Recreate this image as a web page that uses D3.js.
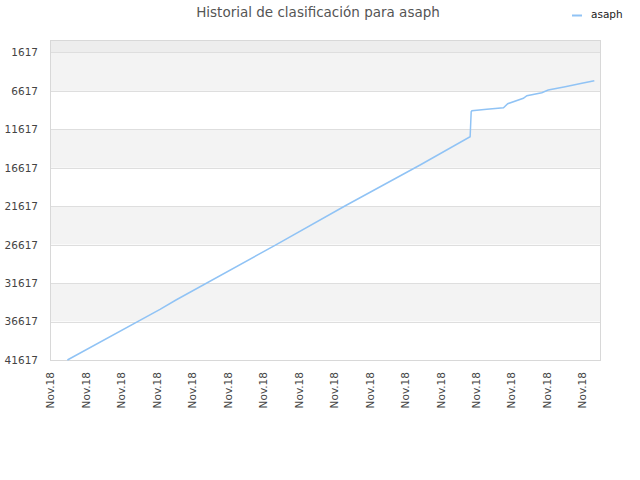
<!DOCTYPE html>
<html>
<head>
<meta charset="utf-8">
<script src="https://cdn.jsdelivr.net/npm/d3@7"></script>
<style>
  body { margin: 0; background: #fff; }
  text { font-family: "DejaVu Sans", sans-serif; }
</style>
</head>
<body>
<div id="chart"></div>
<script>
// data (x in day-ish units, y = rank)
var seriesName = "asaph";
var xVals = [0.49, 3.10, 3.55, 6.34, 8.31, 10.43, 11.84, 11.87, 11.89, 12.31, 12.78, 12.90, 13.34, 13.44, 13.86, 14.04, 14.52, 14.99, 15.34];
var rankVals = [41617, 35024, 33814, 26700, 21589, 16257, 12577, 9326, 9195, 9013, 8805, 8285, 7583, 7245, 6855, 6504, 6074, 5632, 5294];
var yTicks = [1617, 6617, 11617, 16617, 21617, 26617, 31617, 36617, 41617];
var xTicks = [0, 1, 2, 3, 4, 5, 6, 7, 8, 9, 10, 11, 12, 13, 14, 15];
var xTickLabel = "Nov.18";

var margin = { left: 50, right: 40, top: 40, bottom: 120 };
var width = 640 - margin.left - margin.right;
var height = 480 - margin.top - margin.bottom;

var svg = d3.select("#chart").append("svg")
    .attr("width", 640)
    .attr("height", 480);

svg.append("text")
    .attr("x", 318).attr("y", 17)
    .attr("text-anchor", "middle")
    .attr("font-size", 13.5)
    .attr("fill", "#555")
    .text("Historial de clasificación para " + seriesName);

// legend
svg.append("line")
    .attr("x1", 572).attr("x2", 582).attr("y1", 15.5).attr("y2", 15.5)
    .attr("stroke", "#90c3f5").attr("stroke-width", 2);
svg.append("text")
    .attr("x", 591).attr("y", 18)
    .attr("font-size", 10.5).attr("fill", "#222")
    .text(seriesName);

var g = svg.append("g")
    .attr("transform", "translate(" + margin.left + "," + margin.top + ")");

var x = d3.scaleLinear().domain([0, 15.5]).range([0, width]);
var y = d3.scaleLinear().domain([1, 41617]).range([0, height]);

// top strip above first tick
g.append("rect")
    .attr("x", 0).attr("y", 0)
    .attr("width", width).attr("height", y(yTicks[0]))
    .attr("fill", "#ededed");

// alternating bands
for (var i = 0; i < yTicks.length - 1; i++) {
  g.append("rect")
      .attr("x", 0).attr("y", y(yTicks[i]))
      .attr("width", width).attr("height", y(yTicks[i + 1]) - y(yTicks[i]))
      .attr("fill", i % 2 === 0 ? "#f3f3f3" : "#ffffff");
}

// gridlines
g.selectAll(".grid").data(yTicks).enter().append("line")
    .attr("x1", 0).attr("x2", width)
    .attr("y1", function(d) { return Math.round(y(d)) + 0.5; })
    .attr("y2", function(d) { return Math.round(y(d)) + 0.5; })
    .attr("stroke", "#dedede");

// frame
g.append("rect")
    .attr("x", 0.5).attr("y", 0.5)
    .attr("width", width).attr("height", height)
    .attr("fill", "none").attr("stroke", "#d8d8d8");

var yAxisCall = d3.axisLeft(y).tickValues(yTicks).tickSize(0).tickPadding(12).tickFormat(d3.format("d"));
var yAxis = g.append("g").call(yAxisCall);
yAxis.select(".domain").remove();
yAxis.selectAll("text").attr("font-size", 10.5).attr("fill", "#444")
    .attr("font-family", "DejaVu Sans, sans-serif");

var xAxisCall = d3.axisBottom(x).tickValues(xTicks).tickSize(0).tickFormat(function() { return xTickLabel; });
var xAxis = g.append("g")
    .attr("transform", "translate(0," + height + ")")
    .call(xAxisCall);
xAxis.select(".domain").remove();
xAxis.selectAll("text")
    .attr("font-size", 10.5).attr("fill", "#444")
    .attr("font-family", "DejaVu Sans, sans-serif")
    .attr("text-anchor", "end")
    .attr("y", 0)
    .attr("dy", "0.35em")
    .attr("transform", "translate(0,12) rotate(-90)");

var pts = xVals.map(function(v, i) { return { x: v, r: rankVals[i] }; });
var line = d3.line()
    .x(function(d) { return x(d.x); })
    .y(function(d) { return y(d.r); });

g.append("path")
    .datum(pts)
    .attr("d", line)
    .attr("fill", "none")
    .attr("stroke", "#90c3f5")
    .attr("stroke-width", 1.5);
</script>
</body>
</html>
